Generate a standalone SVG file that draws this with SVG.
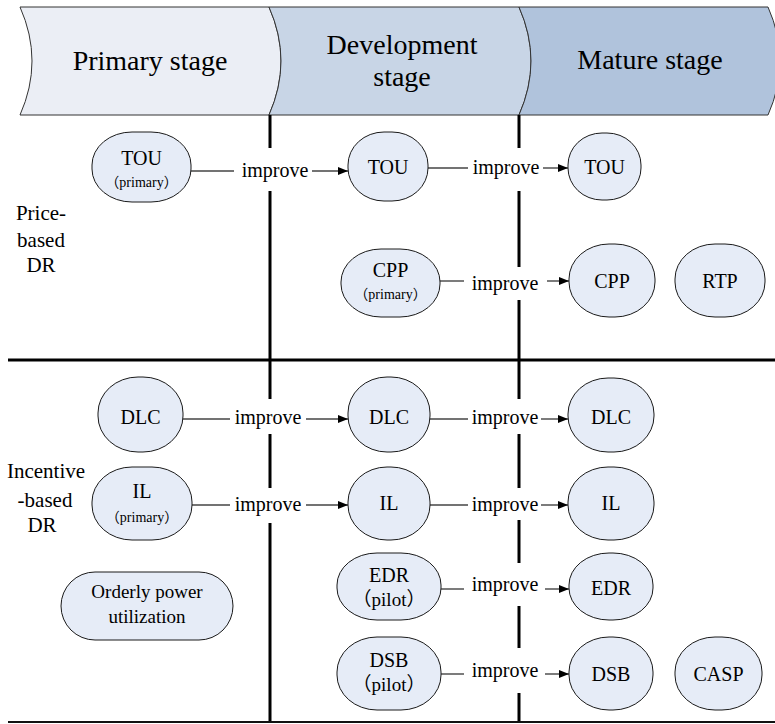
<svg xmlns="http://www.w3.org/2000/svg" width="775" height="724" viewBox="0 0 775 724" font-family="'Liberation Serif', 'Times New Roman', serif">
<style>
text{fill:#000;text-anchor:middle}
.hdr{font-size:28px}
.lbl{font-size:21px}
.nt{font-size:20px}
.sm{font-size:14px}
.pl{font-size:19px}
.imp{font-size:20px}
.node rect{fill:#e6ecf7;stroke:#1a1a1a;stroke-width:1}
.band{stroke:#333;stroke-width:1}
.sep{stroke:#000;stroke-width:3;fill:none}
.con line{stroke:#444;stroke-width:1.4}
</style>
<defs>
<marker id="ah" markerWidth="10" markerHeight="8" refX="10" refY="4" orient="auto" markerUnits="userSpaceOnUse">
<path d="M0,0 L10,4 L0,8 Z" fill="#000"/>
</marker>
</defs>
<rect width="775" height="724" fill="#fff"/>
<g id="header">
<path class="band" d="M20,7 H269 Q293,61 269,115 H20 Q44,61 20,7 Z" fill="#ebeef5"/>
<path class="band" d="M269,7 H519 Q543,61 519,115 H269 Q293,61 269,7 Z" fill="#c8d5e6"/>
<path class="band" d="M519,7 H768 Q792,61 768,115 H519 Q543,61 519,7 Z" fill="#b0c3dc"/>
<text class="hdr" x="150" y="70" font-family="Liberation Serif">Primary stage</text>
<text class="hdr" x="402" y="54" font-family="Liberation Serif">Development</text>
<text class="hdr" x="402" y="86" font-family="Liberation Serif">stage</text>
<text class="hdr" x="650" y="69" font-family="Liberation Serif">Mature stage</text>
</g>
<g id="grid">
<path class="sep" d="M270,115 V148 M270,191 V399 M270,434 V488 M270,523 V722"/>
<path class="sep" d="M519,115 V148 M519,191 V267 M519,300 V399 M519,434 V488 M519,520 V563 M519,606 V648 M519,693 V722"/>
<line x1="8" y1="360" x2="775" y2="360" stroke="#000" stroke-width="3"/>
<line x1="8" y1="722" x2="775" y2="722" stroke="#111" stroke-width="2"/>
</g>
<g id="labels" font-family="Liberation Serif">
<text class="lbl" x="41" y="220">Price-</text>
<text class="lbl" x="41" y="247">based</text>
<text class="lbl" x="41" y="272">DR</text>
<text class="lbl" x="46" y="478">Incentive</text>
<text class="lbl" x="45" y="507">-based</text>
<text class="lbl" x="42" y="532">DR</text>
</g>
<g id="connectors" class="con" font-family="Liberation Serif">
<line x1="191" y1="171" x2="234" y2="171"/><text class="imp" x="275" y="177">improve</text><line x1="312" y1="171" x2="348" y2="171" marker-end="url(#ah)"/>
<line x1="428" y1="168" x2="468" y2="168"/><text class="imp" x="506" y="174">improve</text><line x1="543" y1="168" x2="568" y2="168" marker-end="url(#ah)"/>
<line x1="440" y1="281" x2="464" y2="281"/><text class="imp" x="505" y="290">improve</text><line x1="547" y1="281" x2="569" y2="281" marker-end="url(#ah)"/>
<line x1="183" y1="419" x2="230" y2="419"/><text class="imp" x="268" y="424">improve</text><line x1="306" y1="419" x2="348" y2="419" marker-end="url(#ah)"/>
<line x1="430" y1="419" x2="468" y2="419"/><text class="imp" x="505" y="424">improve</text><line x1="541" y1="419" x2="568" y2="419" marker-end="url(#ah)"/>
<line x1="192" y1="505" x2="230" y2="505"/><text class="imp" x="268" y="511">improve</text><line x1="306" y1="505" x2="348" y2="505" marker-end="url(#ah)"/>
<line x1="430" y1="505" x2="468" y2="505"/><text class="imp" x="505" y="511">improve</text><line x1="541" y1="505" x2="568" y2="505" marker-end="url(#ah)"/>
<line x1="441" y1="589" x2="464" y2="589"/><text class="imp" x="505" y="591">improve</text><line x1="545" y1="589" x2="569" y2="589" marker-end="url(#ah)"/>
<line x1="441" y1="674" x2="464" y2="674"/><text class="imp" x="505" y="677">improve</text><line x1="545" y1="674" x2="569" y2="674" marker-end="url(#ah)"/>
</g>
<g id="nodes" font-family="Liberation Serif">
<g id="p_tou" class="node"><rect x="92" y="132" width="99" height="70" rx="40" ry="33"/><text class="nt" x="141.5" y="165">TOU</text><text class="sm" x="141.5" y="187"><tspan font-family="Noto Sans CJK SC">（</tspan>primary<tspan font-family="Noto Sans CJK SC">）</tspan></text></g>
<g id="d_tou" class="node"><rect x="348" y="132" width="80" height="69" rx="36" ry="33"/><text class="nt" x="388" y="174">TOU</text></g>
<g id="m_tou" class="node"><rect x="568" y="133" width="73" height="67" rx="34" ry="32"/><text class="nt" x="604.5" y="174">TOU</text></g>
<g id="d_cpp" class="node"><rect x="341" y="249" width="99" height="68" rx="40" ry="33"/><text class="nt" x="390.5" y="277">CPP</text><text class="sm" x="390.5" y="299"><tspan font-family="Noto Sans CJK SC">（</tspan>primary<tspan font-family="Noto Sans CJK SC">）</tspan></text></g>
<g id="m_cpp" class="node"><rect x="569" y="244" width="86" height="73" rx="40" ry="35"/><text class="nt" x="612" y="288">CPP</text></g>
<g id="m_rtp" class="node"><rect x="675" y="244" width="90" height="73" rx="40" ry="35"/><text class="nt" x="720" y="288">RTP</text></g>
<g id="p_dlc" class="node"><rect x="98" y="377" width="85" height="75" rx="40" ry="36"/><text class="nt" x="140.5" y="424">DLC</text></g>
<g id="d_dlc" class="node"><rect x="348" y="377" width="82" height="75" rx="39" ry="36"/><text class="nt" x="389" y="424">DLC</text></g>
<g id="m_dlc" class="node"><rect x="568" y="378" width="86" height="74" rx="40" ry="36"/><text class="nt" x="611" y="424">DLC</text></g>
<g id="p_il" class="node"><rect x="92" y="467" width="100" height="73" rx="40" ry="35"/><text class="nt" x="142" y="498">IL</text><text class="sm" x="142" y="522"><tspan font-family="Noto Sans CJK SC">（</tspan>primary<tspan font-family="Noto Sans CJK SC">）</tspan></text></g>
<g id="d_il" class="node"><rect x="348" y="467" width="82" height="73" rx="39" ry="35"/><text class="nt" x="389" y="510">IL</text></g>
<g id="m_il" class="node"><rect x="568" y="467" width="86" height="73" rx="40" ry="35"/><text class="nt" x="611" y="510">IL</text></g>
<g id="p_opu" class="node"><rect x="61" y="572" width="172" height="68" rx="34" ry="34"/><text class="pl" x="147" y="598">Orderly power</text><text class="pl" x="147" y="623">utilization</text></g>
<g id="d_edr" class="node"><rect x="337" y="553" width="104" height="67" rx="40" ry="32"/><text class="nt" x="389" y="582">EDR</text><text class="pl" x="389" y="606"><tspan font-family="Noto Sans CJK SC">（</tspan>pilot<tspan font-family="Noto Sans CJK SC">）</tspan></text></g>
<g id="m_edr" class="node"><rect x="569" y="553" width="84" height="67" rx="40" ry="32"/><text class="nt" x="611" y="595">EDR</text></g>
<g id="d_dsb" class="node"><rect x="337" y="637" width="104" height="73" rx="40" ry="35"/><text class="nt" x="389" y="667">DSB</text><text class="pl" x="389" y="691"><tspan font-family="Noto Sans CJK SC">（</tspan>pilot<tspan font-family="Noto Sans CJK SC">）</tspan></text></g>
<g id="m_dsb" class="node"><rect x="569" y="637" width="84" height="73" rx="40" ry="35"/><text class="nt" x="611" y="681">DSB</text></g>
<g id="m_casp" class="node"><rect x="675" y="637" width="87" height="73" rx="40" ry="35"/><text class="nt" x="718.5" y="681">CASP</text></g>
</g>
</svg>
